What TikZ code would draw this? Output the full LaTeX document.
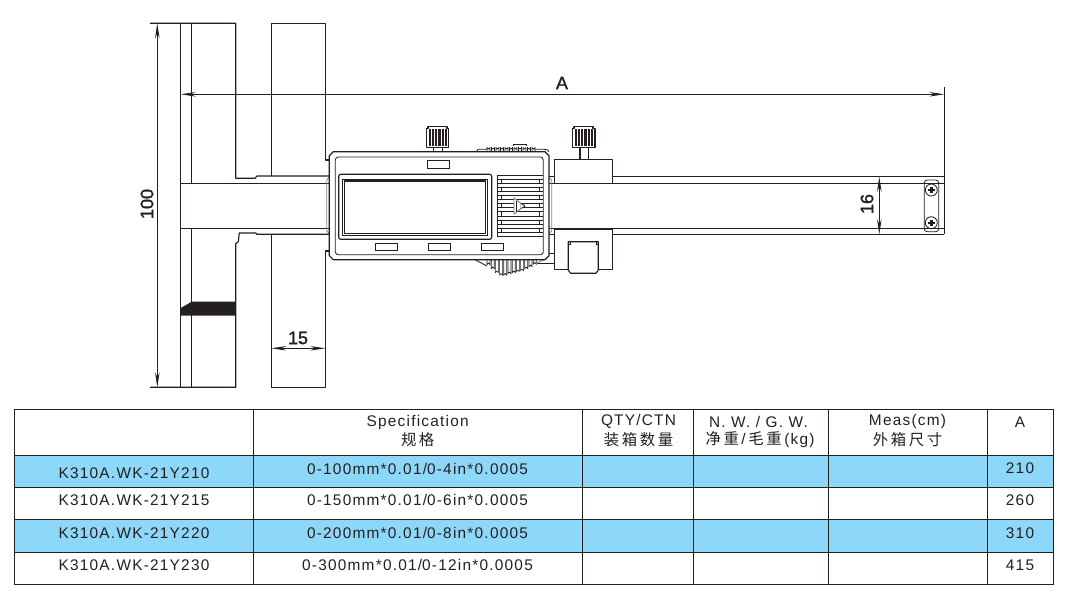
\documentclass[tikz,border=0pt]{standalone}
\usepackage{fontspec}
\setmainfont{Liberation Sans}
\newfontfamily\tabfont[LetterSpace=8]{Liberation Sans}
\newfontfamily\dimfont[FakeBold=1.6]{Liberation Sans}
\newfontfamily\cjk{Noto Sans CJK SC}
\usetikzlibrary{arrows.meta}

\definecolor{rowblue}{HTML}{8DD7F9}
\definecolor{inkdark}{HTML}{231F20}

\begin{document}
\begin{tikzpicture}[
  x=1pt, y=-1pt,
  part/.style   = {draw=inkdark, line width=1.15pt, line join=round},
  thin part/.style = {draw=inkdark, line width=0.85pt},
  rib/.style    = {draw=inkdark, line width=0.65pt},
  soft/.style   = {draw=inkdark!55, line width=0.8pt},
  dim/.style    = {draw=inkdark, line width=0.9pt, {Stealth[length=15pt,width=4.5pt]}-{Stealth[length=15pt,width=4.5pt]}},
  dimtxt/.style = {font=\fontsize{18}{20}\selectfont\dimfont, text=inkdark, inner sep=0pt},
  cell/.style   = {font=\fontsize{15.4}{17}\selectfont\tabfont, text=inkdark, inner sep=0pt},
  grid/.style   = {draw=inkdark, line width=0.9pt}
]
\useasboundingbox (0,0) rectangle (1068,607);

% Left part, two jaws
\draw[part] (150,23.3) -- (235.7,23.3) -- (235.7,178.3) -- (255,178.3) -- (257,176) -- (329.3,176);
\draw[part] (180.7,23.3) -- (180.7,387.3);
\draw[part] (191.3,23.3) -- (191.3,183.3);
\draw[part] (191.3,228.3) -- (191.3,387.3);
\draw[part] (271.3,176) -- (271.3,23.3) -- (325.3,23.3) -- (325.3,160) -- (329.3,160);
\draw[part] (329.3,234.3) -- (257,234.3) -- (255.7,233) -- (239.3,233) -- (238.3,241.7) -- (235.7,243.7) -- (235.7,387.3) -- (150,387.3);
\draw[part] (271.3,234.3) -- (271.3,387.3) -- (325.3,387.3) -- (325.3,251) -- (329.3,251);
\fill[inkdark] (180.7,308) -- (191.7,301.7) -- (235.7,301.7) -- (235.7,315.7) -- (180.7,315.7) -- cycle;

% Blade
\draw[part] (180.7,183.3) -- (329.3,183.3);
\draw[part] (180.7,228.3) -- (329.3,228.3);
\draw[part] (612.7,176.7) -- (944.3,176.7);
\draw[part] (612.7,183.3) -- (944.3,183.3);
\draw[part] (612.7,228.3) -- (944.3,228.3);
\draw[part] (612.7,234.3) -- (944.3,234.3);
\draw[part] (944.3,87) -- (944.3,234.3);
\draw[part] (549,176.7) -- (554.3,176.7);
\draw[part] (549,183.3) -- (554.3,183.3);
\draw[part] (549,228.3) -- (554.3,228.3);
\draw[part] (549,234.3) -- (554.3,234.3);
\draw[soft] (329.3,176.7) -- (326.7,180) -- (326.7,231) -- (329.3,233.5);
\draw[soft] (549,176.7) -- (551.7,180) -- (551.7,231) -- (549,233.5);

% End plate with screws
\draw[thin part, rounded corners=3pt] (924.3,180) rectangle (938.7,231.7);
\foreach \sy in {190,222.7} {
  \draw[thin part, fill=white] (931.3,\sy) circle (6);
  \fill[inkdark] (930.1,\sy-3.2) rectangle (932.5,\sy+3.2);
  \fill[inkdark] (928.1,\sy-1.2) rectangle (934.5,\sy+1.2);
}

% Thumb wheel under the body
\foreach \wx/\wy in {487/266,491.2/270,495.4/274,499.6/276.5,503.8/276.5,508/275,512.2/274,516.4/273,520.6/272,524.8/270,529/268,533.2/265.5} {
  \draw[rib] (\wx,259.7) -- (\wx,\wy-1.4) arc (180:360:1.5) -- (\wx+3,259.7);
}
\draw[thin part] (475,259.7) -- (487,266);
\draw[part] (536.7,263.3) -- (554.3,263.3);
\draw[part] (549,253.3) -- (554.3,253.3);
\draw[soft] (536.7,263.3) -- (544,259.7);

% Ridges over the body
\draw[thin part] (476.7,151.7) -- (478,149.2) -- (487,149.2);
\foreach \wx in {487,491.5,496,500.5,505,509.5,514,518.5,523,527.5,532} {
  \draw[rib] (\wx,151.7) -- (\wx,147.6) arc (180:0:1.5) -- (\wx+3,151.7);
}
\draw[thin part] (513,146) -- (513,144) -- (526,144) -- (526,146);
\draw[thin part] (535,149.2) -- (544,149.2) arc (-90:0:5 and 2.5);

% Body
\draw[part, fill=white] (333.3,151.7) -- (545,151.7) -- (549,155.7) -- (549,255.7) -- (545,259.7) -- (333.3,259.7) -- (329.3,255.7) -- (329.3,155.7) -- cycle;
\draw[thin part, rounded corners=3pt] (335.3,157) rectangle (543.3,254.7);
\draw[part, rounded corners=2pt] (338.7,174.3) rectangle (491.7,239.3);
\draw[thin part] (342.7,179.3) rectangle (487.7,235.7);
\draw[part] (344.3,181) rectangle (485.7,233.7);

% Buttons
\draw[thin part] (427.3,160.3) rectangle (449.3,168.3);
\foreach \bx in {375.3,428.3,481.3}
  \draw[thin part] (\bx,243.3) rectangle ++(22,7.4);

% Grille with the mark
\foreach \gy in {175,179.1,183.2,187.3,191.4,195.5,199.6,203.7,207.8,211.9,216,220.1,224.2,228.3,232.4,236.7}
  \draw[thin part] (497.3,\gy) -- (543.3,\gy);
\foreach \gx in {501.7,539.5} {
  \foreach \gy in {179.1,187.3,195.5,203.7,211.9,220.1,228.3}
    \draw[thin part] (\gx,\gy) -- (\gx,\gy+4.1);
}
\draw[thin part] (497.3,175) -- (497.3,236.7);
\draw[fill=white, draw=inkdark!60, line width=0.9pt] (514,198) -- (514,214) -- (521,208.5) -- (521,203.5) -- cycle;
\draw[draw=inkdark, line width=0.8pt] (516.5,200.5) -- (516.5,211.5);
\draw[fill=white, draw=inkdark, line width=0.8pt] (521,203.5) -- (524.5,205.5) -- (524.5,206.5) -- (521,208.5);

% Knobs
\draw[part] (433.3,147.3) -- (433.3,151.7);
\draw[part] (442.7,147.3) -- (442.7,151.7);
\draw[part, fill=white] (428,126.7) -- (447,126.7) -- (447,128.5) -- (448.7,128.5) -- (448.7,147.3) -- (426.3,147.3) -- (426.3,128.5) -- (428,128.5) -- cycle;
\foreach \kx in {428.8,432,435.2,438.4,441.6,444.8}
  \fill[inkdark] (\kx,129) rectangle ++(2.1,16.8);
\draw[part, fill=white] (580,147.3) rectangle (588.3,159.3);
\draw[part, fill=white] (574,126.7) -- (593,126.7) -- (593,128.5) -- (595,128.5) -- (595,147.3) -- (572.3,147.3) -- (572.3,128.5) -- (574,128.5) -- cycle;
\foreach \kx in {574.8,578,581.2,584.4,587.6,590.8}
  \fill[inkdark] (\kx,129) rectangle ++(2.1,16.8);

% Slider
\draw[part, fill=white] (554.3,159.3) rectangle (612.7,183.3);
\draw[line width=1.6pt, draw=inkdark] (554.3,183.3) -- (612.7,183.3);
\draw[part, fill=white] (554.3,229) rectangle (612.7,269.7);
\draw[line width=1.6pt, draw=inkdark] (554.3,229) -- (612.7,229);
\draw[part, fill=white] (568.3,241.7) -- (598.3,241.7) -- (598.3,270) -- (596,273.3) -- (570.6,273.3) -- (568.3,270) -- cycle;
\draw[thin part] (568.3,244.5) -- (570.5,244.5) -- (570.5,241.7);
\draw[thin part] (598.3,244.5) -- (596.1,244.5) -- (596.1,241.7);

% Dimensions
\draw[dim] (157.3,23.3) -- (157.3,387.3);
\draw[dim] (180.7,94.3) -- (944.3,94.3);
\draw[dim] (271.3,348.3) -- (325.3,348.3);
\draw[dim] (879.3,176.7) -- (879.3,234.3);
\node[dimtxt, rotate=90] (lbl100) at (147,204) {100};
\node[dimtxt] (lblA) at (562,83) {A};
\node[dimtxt] (lbl15) at (298,338) {15};
\node[dimtxt, rotate=90] (lbl16) at (867,204) {16};

% Table
\fill[rowblue] (14,455.3) rectangle (1053,487.3);
\fill[rowblue] (14,519.3) rectangle (1053,552.7);
\draw[grid] (14,409.3) rectangle (1053,584.3);
\foreach \ry in {455.3,487.3,519.3,552.7}
  \draw[grid] (14,\ry) -- (1053,\ry);
\foreach \cx in {253,582,693,828,987}
  \draw[grid] (\cx,409.3) -- (\cx,584.3);

% Header
\node[cell] (spec) at (417.7,422.2) {Specification};
\node[cell] (speczh) at (417.7,439.7) {\cjk 规\,格};
\node[cell] (qty) at (638.5,421.7) {QTY/CTN};
\node[cell] (qtyzh) at (638.5,439.7) {\cjk 装\,箱\,数\,量};
\node[cell] (weight) at (758.5,421.7) {N. W. / G. W.};
\node[cell] (weightzh) at (760,439.7) {{\cjk 净\,重}\,/\,{\cjk 毛\,重}\,(kg)};
\node[cell] (meas) at (907.5,422) {Meas(cm)};
\node[cell] (measzh) at (907.5,439.7) {\cjk 外\,箱\,尺\,寸};
\node[cell] (size) at (1020,421.7) {A};

% Rows
\foreach \nm/\sp/\sz/\ny/\ry in {
  K310A.WK-21Y210/0-100mm*0.01\slash 0-4in*0.0005/210/472.7/468.5,
  K310A.WK-21Y215/0-150mm*0.01\slash 0-6in*0.0005/260/499.7/499.7,
  K310A.WK-21Y220/0-200mm*0.01\slash 0-8in*0.0005/310/532.7/532.7,
  K310A.WK-21Y230/0-300mm*0.01\slash 0-12in*0.0005/415/565/565} {
  \node[cell] (name\sz) at (134,\ny) {\nm};
  \node[cell] (spec\sz) at (417.5,\ry) {\sp};
  \node[cell] (len\sz) at (1020,\ry) {\sz};
}
\end{tikzpicture}
\end{document}
